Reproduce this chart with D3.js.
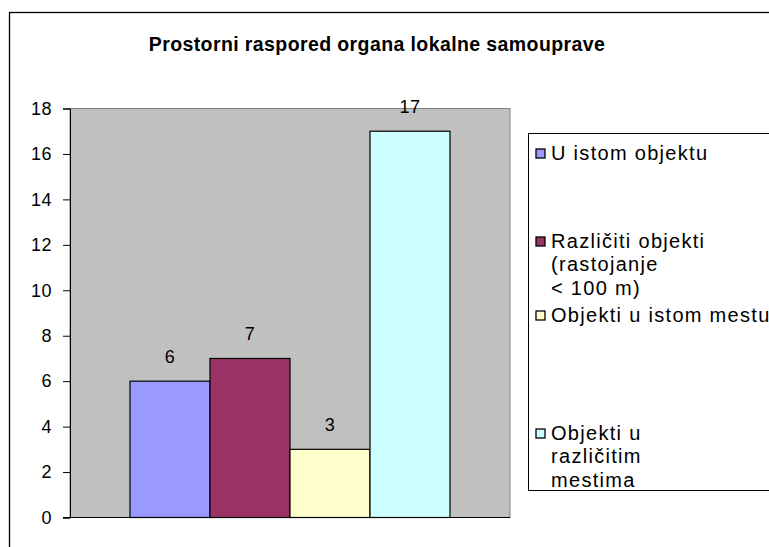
<!DOCTYPE html>
<html>
<head>
<meta charset="utf-8">
<script src="https://cdn.jsdelivr.net/npm/d3@7"></script>
<style>
  html, body { margin: 0; padding: 0; background: #fff; }
  svg { display: block; font-family: "Liberation Sans", Arial, sans-serif; }
</style>
</head>
<body>
<svg id="chart" width="769" height="547"></svg>
<script>
// ---- data ----
const title = "Prostorni raspored organa lokalne samouprave";
const categories = [""];
const seriesNames = [
  "U istom objektu",
  "Različiti objekti (rastojanje < 100 m)",
  "Objekti u istom mestu",
  "Objekti u različitim mestima"
];
const seriesValues = [6, 7, 3, 17];
const legendLines = [
  ["U istom objektu"],
  ["Različiti objekti", "(rastojanje", "< 100 m)"],
  ["Objekti u istom mestu"],
  ["Objekti u", "različitim", "mestima"]
];
const yTicks = [0, 2, 4, 6, 8, 10, 12, 14, 16, 18];

// ---- styles / layout ----
const colors = ["#9999FF", "#993366", "#FFFFCC", "#CCFFFF"];
const legendTop = [153, 241, 315, 433];
const lineH = 23.5;
const fs = 18;
const lfs = 20;

const svg = d3.select("#chart");
const plot = { left: 70, right: 510, top: 108.5, bottom: 517.5 };

// chart border
svg.append("rect").attr("x", 9.5).attr("y", 12.5).attr("width", 800).attr("height", 600)
  .attr("fill", "#fff").attr("stroke", "#000").attr("stroke-width", 1.3);

// title
svg.append("text").attr("x", 377).attr("y", 51).attr("text-anchor", "middle")
  .attr("font-size", 19.5).attr("font-weight", "bold").attr("letter-spacing", 0.4)
  .text(title);

const y = d3.scaleLinear().domain([0, 18]).range([plot.bottom, plot.top]);
const x0 = d3.scaleBand().domain(categories).range([plot.left, plot.right])
  .paddingInner(0).paddingOuter(0.1875);
const x1 = d3.scaleBand().domain(seriesNames).range([0, x0.bandwidth()]);

// plot area
svg.append("rect").attr("x", plot.left).attr("y", plot.top)
  .attr("width", plot.right - plot.left).attr("height", plot.bottom - plot.top)
  .attr("fill", "#C0C0C0").attr("stroke", "#808080").attr("stroke-width", 1);

// bars
const g = svg.append("g").attr("transform", `translate(${x0(categories[0])},0)`);
g.selectAll("rect.bar").data(seriesValues).join("rect").attr("class", "bar")
  .attr("x", (d, i) => x1(seriesNames[i]))
  .attr("y", d => y(d))
  .attr("width", x1.bandwidth())
  .attr("height", d => y(0) - y(d))
  .attr("fill", (d, i) => colors[i])
  .attr("stroke", "#000").attr("stroke-width", 1.2);

// data labels
g.selectAll("text.lbl").data(seriesValues).join("text").attr("class", "lbl")
  .attr("x", (d, i) => x1(seriesNames[i]) + x1.bandwidth() / 2)
  .attr("y", d => y(d) - 18)
  .attr("text-anchor", "middle").attr("font-size", fs).attr("letter-spacing", 0.5).attr("fill", "#000")
  .text(d => d);

// y axis
const yAxis = svg.append("g").attr("transform", `translate(${plot.left},0)`)
  .call(d3.axisLeft(y).tickValues(yTicks).tickSize(7).tickPadding(11).tickFormat(d3.format("d")));
yAxis.select(".domain").attr("stroke", "#000");
yAxis.selectAll(".tick line").attr("stroke", "#000");
yAxis.selectAll("text").attr("font-size", fs).attr("letter-spacing", 0.5)
  .attr("font-family", "Liberation Sans, Arial, sans-serif").attr("fill", "#000");

// x axis baseline
svg.append("line").attr("x1", plot.left - 7).attr("x2", plot.right)
  .attr("y1", y(0)).attr("y2", y(0)).attr("stroke", "#000").attr("stroke-width", 1);

// legend
svg.append("rect").attr("x", 528.5).attr("y", 133.5).attr("width", 300).attr("height", 357)
  .attr("fill", "#fff").attr("stroke", "#000").attr("stroke-width", 1);
const lg = svg.append("g");
legendLines.forEach((lines, i) => {
  const cy = legendTop[i];
  lg.append("rect").attr("x", 536).attr("y", cy - 4).attr("width", 9).attr("height", 9)
    .attr("fill", colors[i]).attr("stroke", "#000").attr("stroke-width", 1.3);
  lines.forEach((t, j) => {
    lg.append("text").attr("x", 551).attr("y", cy + j * lineH + 6.5)
      .attr("font-size", lfs).attr("letter-spacing", 1.3).text(t);
  });
});
</script>
</body>
</html>
